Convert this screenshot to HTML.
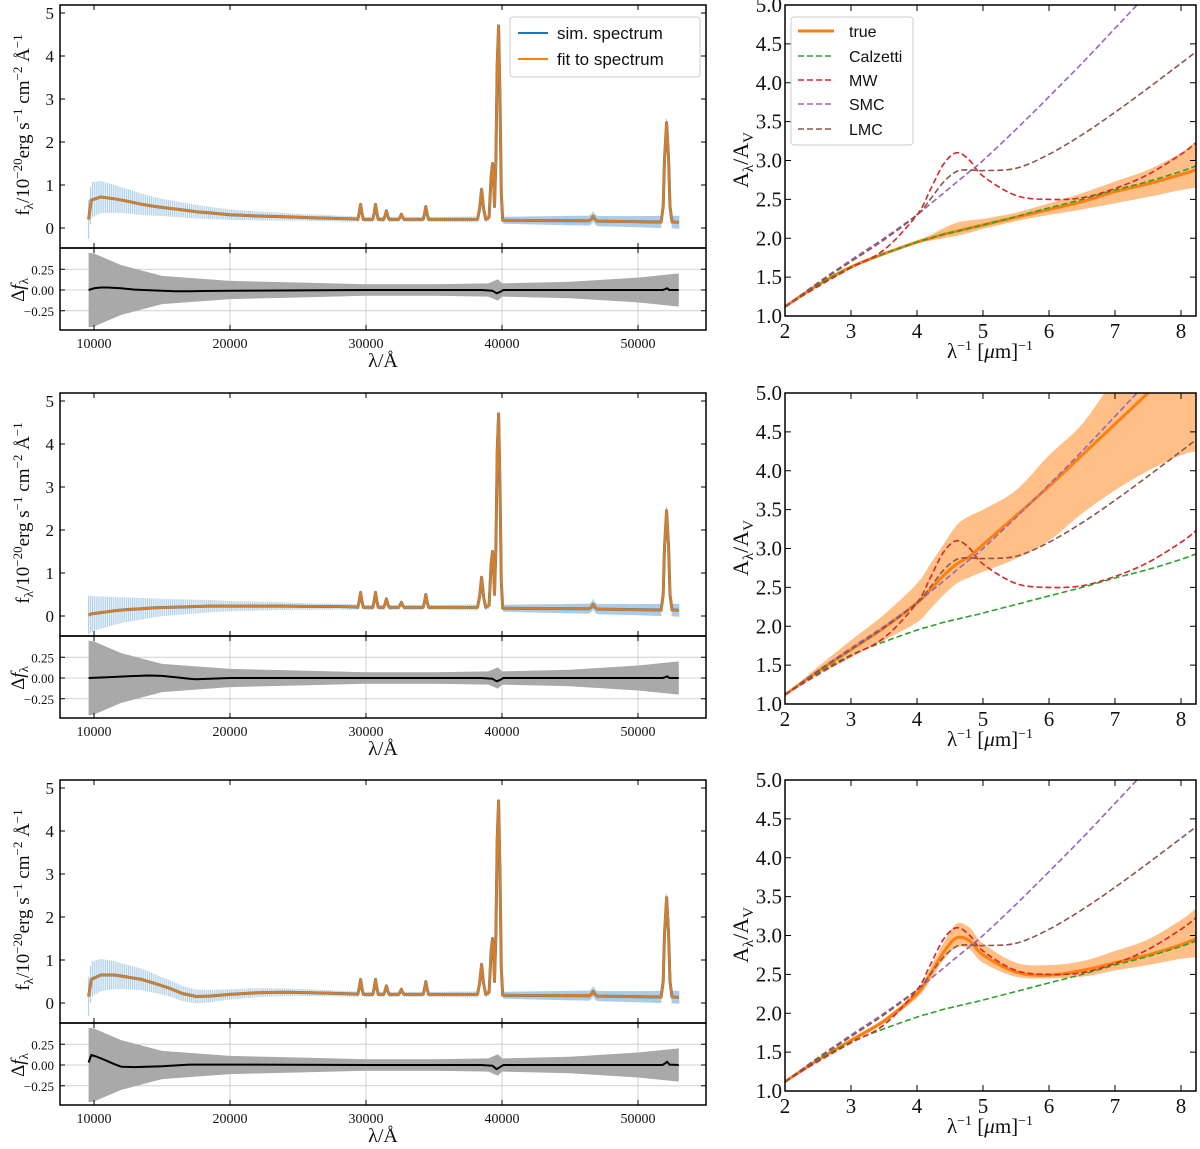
<!DOCTYPE html>
<html><head><meta charset="utf-8"><style>
body{margin:0;background:#fff}
svg{display:block}
.tk{font-family:"Liberation Serif","DejaVu Serif",serif;fill:#111}
.lg{font-family:"Liberation Sans","DejaVu Sans",sans-serif;fill:#111}
</style></head><body>
<svg id="fig" width="1200" height="1149" viewBox="0 0 1200 1149" xmlns="http://www.w3.org/2000/svg"></svg>
<script>
// ---------- spectrum data ----------
const contWave = [9600,9800,10500,11500,12500,13500,14500,15500,16500,17500,18500,20000,22000,24000,26000,28000,29300];
const contFlux1 = [0.2,0.65,0.72,0.68,0.62,0.55,0.5,0.46,0.42,0.38,0.35,0.31,0.28,0.26,0.24,0.22,0.21];
const contFlux2 = [0.02,0.05,0.08,0.12,0.15,0.17,0.19,0.2,0.21,0.22,0.23,0.23,0.23,0.23,0.22,0.22,0.21];
const contFlux3 = [0.15,0.55,0.65,0.65,0.6,0.55,0.45,0.35,0.22,0.15,0.16,0.2,0.24,0.25,0.24,0.22,0.21];
const lineWave = [29400,29500,29600,29700,29800,30000,30500,30600,30700,30800,30900,31300,31400,31500,31600,31700,32400,32500,32600,32700,32800,34200,34300,34400,34500,34600,38200,38350,38500,38650,38800,39050,39200,39300,39400,39450,39550,39650,39750,39850,39950,40050,46400,46550,46700,46850,47000,51700,51850,51950,52100,52250,52350,52500,53000];
const lineFlux = [0.2,0.35,0.55,0.35,0.2,0.2,0.2,0.35,0.55,0.35,0.2,0.2,0.28,0.4,0.28,0.2,0.2,0.25,0.32,0.25,0.2,0.2,0.32,0.5,0.32,0.2,0.2,0.45,0.9,0.45,0.2,0.25,1.2,1.5,1.0,0.5,1.6,3.8,4.7,3.0,0.8,0.18,0.17,0.2,0.27,0.2,0.16,0.14,0.5,1.6,2.45,1.6,0.5,0.14,0.13];
const errWave = [9600,10000,12000,15000,20000,25000,30000,35000,40000,45000,50000,53000];
const errHalf = [0.45,0.4,0.3,0.2,0.12,0.08,0.06,0.06,0.08,0.11,0.13,0.15];
const bandWave = [9600,10000,12000,15000,20000,25000,30000,35000,39000,39700,40000,45000,50000,53000];
const bandHalf = [0.45,0.44,0.3,0.17,0.11,0.09,0.07,0.07,0.08,0.13,0.08,0.1,0.15,0.2];
const resWave1 = [9600,10000,10500,11000,12000,13000,15000,16000,17000,18000,20000,30000,38500,39300,39600,39900,40100,51800,52000,52150,52300,53000];
const resVal1 = [0,0.02,0.03,0.03,0.02,0.005,-0.01,-0.015,-0.015,-0.012,-0.01,0,0,-0.01,-0.04,-0.02,0,0,0.01,0.02,0,0];
const resWave2 = [9600,11000,12500,14000,15000,16000,17000,17500,18500,20000,30000,38500,39300,39600,39900,40100,51800,52000,52150,52300,53000];
const resVal2 = [0,0.01,0.02,0.03,0.025,0.01,-0.01,-0.015,-0.01,0,0,0,-0.01,-0.04,-0.02,0,0,0.01,0.02,0,0];
const resWave3 = [9600,9800,10200,10800,11500,12000,13000,15000,17000,20000,30000,38500,39300,39600,39900,40100,51800,52000,52150,52300,53000];
const resVal3 = [0.03,0.12,0.1,0.06,0.01,-0.02,-0.025,-0.015,0.005,0.005,0,0,-0.01,-0.05,-0.02,0,0,0.02,0.04,0.005,0];
const specXTicks = [10000,20000,30000,40000,50000];
const specYTicks = [0,1,2,3,4,5];
const resYTicks = [0.25,0,-0.25];
const resYLabels = ["0.25","0.00","\u22120.25"];
// ---------- extinction data ----------
const extX = [2,2.5,3,3.5,4,4.2,4.4,4.6,4.8,5,5.5,6,6.5,7,7.5,8,8.23];
const calz = [1.12,1.4,1.63,1.8,1.95,2.0,2.05,2.09,2.13,2.17,2.28,2.39,2.5,2.62,2.73,2.86,2.93];
const smc = [1.12,1.43,1.72,2.0,2.3,2.44,2.58,2.72,2.86,3.0,3.4,3.82,4.25,4.7,5.15,5.6,5.82];
const mw = [1.12,1.38,1.62,1.85,2.3,2.62,2.95,3.1,3.0,2.8,2.55,2.5,2.52,2.64,2.82,3.08,3.23];
const lmc = [1.12,1.42,1.7,1.98,2.3,2.5,2.72,2.86,2.88,2.87,2.9,3.08,3.33,3.62,3.93,4.25,4.4];
const true1 = [1.12,1.4,1.63,1.8,1.95,2.0,2.05,2.09,2.13,2.17,2.27,2.37,2.47,2.6,2.7,2.82,2.88];
const lo1 = [1.12,1.39,1.62,1.79,1.93,1.97,2.0,2.03,2.07,2.12,2.22,2.3,2.37,2.45,2.53,2.62,2.65];
const hi1 = [1.12,1.41,1.64,1.81,1.97,2.04,2.13,2.2,2.23,2.25,2.33,2.45,2.58,2.73,2.88,3.1,3.25];
const true2 = [1.12,1.42,1.7,1.98,2.3,2.47,2.65,2.8,2.9,3.05,3.42,3.8,4.2,4.6,5.0,5.4,5.6];
const lo2 = [1.12,1.38,1.6,1.82,2.05,2.22,2.4,2.55,2.63,2.7,2.87,3.1,3.45,3.75,4.0,4.2,4.25];
const hi2 = [1.12,1.48,1.82,2.15,2.55,2.8,3.05,3.3,3.42,3.5,3.75,4.2,4.6,5.2,5.8,6.3,6.5];
const true3 = [1.12,1.4,1.65,1.9,2.25,2.5,2.78,2.97,2.93,2.75,2.53,2.49,2.55,2.65,2.75,2.88,2.96];
const lo3 = [1.12,1.39,1.63,1.87,2.2,2.42,2.68,2.85,2.82,2.65,2.47,2.45,2.47,2.55,2.62,2.7,2.72];
const hi3 = [1.12,1.41,1.68,1.93,2.3,2.58,2.9,3.15,3.1,2.9,2.65,2.62,2.67,2.8,2.95,3.2,3.35];
const extXTicks = [2,3,4,5,6,7,8];
const extYTicks = [1.0,1.5,2.0,2.5,3.0,3.5,4.0,4.5,5.0];

const NS = "http://www.w3.org/2000/svg";
const svg = document.getElementById('fig');
function el(tag, attrs, parent){ const e=document.createElementNS(NS,tag); for(const k in attrs) e.setAttribute(k,attrs[k]); (parent||svg).appendChild(e); return e; }
function interp(xs, ys, x){ if(x<=xs[0]) return ys[0]; for(let i=1;i<xs.length;i++){ if(x<=xs[i]){ const t=(x-xs[i-1])/(xs[i]-xs[i-1]); return ys[i-1]+t*(ys[i]-ys[i-1]); } } return ys[ys.length-1]; }
function linPath(pts){ return pts.map((p,i)=>(i?'L':'M')+p[0].toFixed(1)+' '+p[1].toFixed(1)).join(''); }
function smoothPath(pts, cont){ let d=(cont?'L':'M')+pts[0][0].toFixed(1)+' '+pts[0][1].toFixed(1); for(let i=0;i<pts.length-1;i++){ const p0=pts[i-1]||pts[i], p1=pts[i], p2=pts[i+1], p3=pts[i+2]||p2; const c1=[p1[0]+(p2[0]-p0[0])/6, p1[1]+(p2[1]-p0[1])/6], c2=[p2[0]-(p3[0]-p1[0])/6, p2[1]-(p3[1]-p1[1])/6]; d+='C'+c1[0].toFixed(1)+' '+c1[1].toFixed(1)+' '+c2[0].toFixed(1)+' '+c2[1].toFixed(1)+' '+p2[0].toFixed(1)+' '+p2[1].toFixed(1);} return d; }
let clipId=0;
function clip(x,y,w,h){ const id='c'+(clipId++); const cp=el('clipPath',{id:id}); el('rect',{x:x,y:y,width:w,height:h},cp); return 'url(#'+id+')'; }

function spectrumRow(oy, contF, resW, resV, idx){
  const L=60,R=706,T=oy+5,MB=oy+248,RB=oy+330;
  const sx=w=>L+(w-7500)/(55000-7500)*(R-L);
  const sy=f=>(oy+228)-f*43;
  const ry=v=>(oy+290)-v*83;
  const g=el('g',{});  
  for(const t of specXTicks){ const gl=el('line',{x1:sx(t),x2:sx(t),y1:MB,y2:RB,stroke:'#d0d0d0','stroke-width':1},g);   }
  for(const t of resYTicks){ const gl=el('line',{x1:L,x2:R,y1:ry(t),y2:ry(t),stroke:'#d0d0d0','stroke-width':1},g);   }
  const wave=contWave.concat(lineWave), flux=contF.concat(lineFlux);
  const cpM=clip(L,T,R-L,MB-T);
  const eb=el('g',{stroke:'#7fb2dc','stroke-width':1.2,'stroke-opacity':0.6,'clip-path':cpM},g);  
  for(let w=9600; w<=53000; w+=(w>40000?70:140)){ const f=interp(wave,flux,w), e=interp(errWave,errHalf,w); const ln=el('line',{x1:sx(w),x2:sx(w),y1:sy(f-e),y2:sy(f+e)},eb);   }
  const pts=wave.map((w,i)=>[sx(w),sy(flux[i])]);
  const sim=el('path',{d:linPath(pts),fill:'none',stroke:'#1f77b4','stroke-width':3,'stroke-linejoin':'round','clip-path':cpM},g);  
  const fit=el('path',{d:linPath(pts),fill:'none',stroke:'#ff7f0e','stroke-width':2.6,'stroke-opacity':0.8,'stroke-linejoin':'round','clip-path':cpM},g);  
  const up=bandWave.map((w,i)=>[sx(w),ry(bandHalf[i])]), dn=bandWave.map((w,i)=>[sx(w),ry(-bandHalf[i])]).reverse();
  const band=el('path',{d:linPath(up.concat(dn))+'Z',fill:'#a9a9a9',stroke:'none'},g);  
  const res=el('path',{d:linPath(resW.map((w,i)=>[sx(w),ry(resV[i])])),fill:'none',stroke:'#000','stroke-width':2,'stroke-linejoin':'round'},g);  
  const f1=el('rect',{x:L,y:T,width:R-L,height:MB-T,fill:'none',stroke:'#000','stroke-width':1.5},g);  
  const f2=el('rect',{x:L,y:MB,width:R-L,height:RB-MB,fill:'none',stroke:'#000','stroke-width':1.5},g);  
  for(const t of specXTicks){ const x=sx(t);
    el('line',{x1:x,x2:x,y1:RB,y2:RB-5,stroke:'#000'},g); el('line',{x1:x,x2:x,y1:MB,y2:MB+5,stroke:'#000'},g); el('line',{x1:x,x2:x,y1:MB,y2:MB-5,stroke:'#000'},g); el('line',{x1:x,x2:x,y1:T,y2:T+5,stroke:'#000'},g);
    const tl=el('text',{x:x,y:RB+18,'text-anchor':'middle','font-size':14,class:'tk'},g); tl.textContent=t;   }
  for(const t of specYTicks){ const y=sy(t);
    el('line',{x1:L,x2:L+5,y1:y,y2:y,stroke:'#000'},g); el('line',{x1:R,x2:R-5,y1:y,y2:y,stroke:'#000'},g);
    const tl=el('text',{x:L-6,y:y+6,'text-anchor':'end','font-size':17,class:'tk'},g); tl.textContent=t;   }
  resYTicks.forEach((t,i)=>{ const y=ry(t);
    el('line',{x1:L,x2:L+5,y1:y,y2:y,stroke:'#000'},g); el('line',{x1:R,x2:R-5,y1:y,y2:y,stroke:'#000'},g);
    const tl=el('text',{x:L-6,y:y+5,'text-anchor':'end','font-size':13,class:'tk'},g); tl.textContent=resYLabels[i];   });
  const xl=el('text',{x:383,y:oy+367,'text-anchor':'middle','font-size':20,class:'tk'},g); xl.textContent='λ/Å';  
  const yl=el('text',{x:0,y:0,transform:`translate(29,${oy+125}) rotate(-90)`,'text-anchor':'middle','font-size':19,class:'tk'},g);
  yl.innerHTML='f<tspan dy="4" font-size="13">λ</tspan><tspan dy="-4">/10</tspan><tspan dy="-7" font-size="13">−20</tspan><tspan dy="7">erg s</tspan><tspan dy="-7" font-size="13">−1</tspan><tspan dy="7"> cm</tspan><tspan dy="-7" font-size="13">−2</tspan><tspan dy="7"> Å</tspan><tspan dy="-7" font-size="13">−1</tspan>';
   
  const rl=el('text',{x:0,y:0,transform:`translate(24,${oy+290}) rotate(-90)`,'text-anchor':'middle','font-size':19,class:'tk'},g);
  rl.innerHTML='Δ<tspan font-style="italic">f</tspan><tspan dy="4" font-size="13">λ</tspan>';  
  if(idx===1){
    const lg=el('g',{},g);  
    el('rect',{x:510,y:17,width:190,height:60,rx:3,fill:'#fff','fill-opacity':0.85,stroke:'#ccc'},lg);
    const items=[['sim. spectrum','#1f77b4',33],['fit to spectrum','#ff7f0e',59]];
    for(const it of items){ const e=el('g',{},lg);  
      el('line',{x1:518,x2:548,y1:it[2],y2:it[2],stroke:it[1],'stroke-width':2},e);
      const t=el('text',{x:557,y:it[2]+6,'font-size':17,class:'lg'},e); t.textContent=it[0]; }
  }
}

function extRow(oy, tr, lo, hi, idx){
  const L=785,R=1196,T=oy+5,B=oy+316;
  const sx=x=>L+(x-2)*66, sy=v=>B-(v-1)*77.75;
  const g=el('g',{});  
  const cp=clip(L,T,R-L,B-T);
  const inner=el('g',{'clip-path':cp},g);
  const up=extX.map((x,i)=>[sx(x),sy(hi[i])]), dn=extX.map((x,i)=>[sx(x),sy(lo[i])]).reverse();
  const band=el('path',{d:smoothPath(up)+smoothPath(dn,true)+'Z',fill:'#ffbf86',stroke:'none'},inner);  
  const tl=el('path',{d:smoothPath(extX.map((x,i)=>[sx(x),sy(tr[i])])),fill:'none',stroke:'#ff7f0e','stroke-width':3},inner);  
  const curves=[['calzetti-curve',calz,'#2ca02c'],['mw-curve',mw,'#d62728'],['smc-curve',smc,'#9467bd'],['lmc-curve',lmc,'#8c564b']];
  for(const c of curves){ const p=el('path',{d:smoothPath(extX.map((x,i)=>[sx(x),sy(c[1][i])])),fill:'none',stroke:c[2],'stroke-width':1.6,'stroke-dasharray':'6 3'},inner);   }
  const fr=el('rect',{x:L,y:T,width:R-L,height:B-T,fill:'none',stroke:'#000','stroke-width':1.5},g);  
  for(const t of extXTicks){ const x=sx(t);
    el('line',{x1:x,x2:x,y1:B,y2:B-6,stroke:'#000'},g); el('line',{x1:x,x2:x,y1:T,y2:T+6,stroke:'#000'},g);
    const l=el('text',{x:x,y:B+22,'text-anchor':'middle','font-size':21,class:'tk'},g); l.textContent=t;   }
  for(const t of extYTicks){ const y=sy(t);
    el('line',{x1:L,x2:L+6,y1:y,y2:y,stroke:'#000'},g); el('line',{x1:R,x2:R-6,y1:y,y2:y,stroke:'#000'},g);
    const l=el('text',{x:L-3,y:y+7,'text-anchor':'end','font-size':21,class:'tk'},g); l.textContent=t.toFixed(1);   }
  const xl=el('text',{x:990,y:oy+358,'text-anchor':'middle','font-size':21,class:'tk'},g);
  xl.innerHTML='λ<tspan dy="-8" font-size="14">−1</tspan><tspan dy="8"> [</tspan><tspan font-style="italic">μ</tspan>m]<tspan dy="-8" font-size="14">−1</tspan>';  
  const yl=el('text',{x:0,y:0,transform:`translate(748,${oy+160}) rotate(-90)`,'text-anchor':'middle','font-size':22,class:'tk'},g);
  yl.innerHTML='A<tspan dy="5" font-size="15">λ</tspan><tspan dy="-5">/A</tspan><tspan dy="5" font-size="15">V</tspan>';  
  if(idx===1){
    const lg=el('g',{},g);  
    el('rect',{x:791,y:17,width:122,height:128,rx:3,fill:'#fff','fill-opacity':0.85,stroke:'#ccc'},lg);
    const items=[['true','#ff7f0e',31,true],['Calzetti','#2ca02c',56],['MW','#d62728',80],['SMC','#9467bd',104],['LMC','#8c564b',129]];
    for(const it of items){ const e=el('g',{},lg);  
      el('line',{x1:798,x2:834,y1:it[2],y2:it[2],stroke:it[1],'stroke-width':it[3]?3:1.6,'stroke-dasharray':it[3]?'none':'6 3'},e);
      const t=el('text',{x:849,y:it[2]+6,'font-size':16,class:'lg'},e); t.textContent=it[0]; }
  }
}

spectrumRow(0, contFlux1, resWave1, resVal1, 1);
spectrumRow(388, contFlux2, resWave2, resVal2, 2);
spectrumRow(775, contFlux3, resWave3, resVal3, 3);
extRow(0, true1, lo1, hi1, 1);
extRow(388, true2, lo2, hi2, 2);
extRow(775, true3, lo3, hi3, 3);
</script>
</body></html>
